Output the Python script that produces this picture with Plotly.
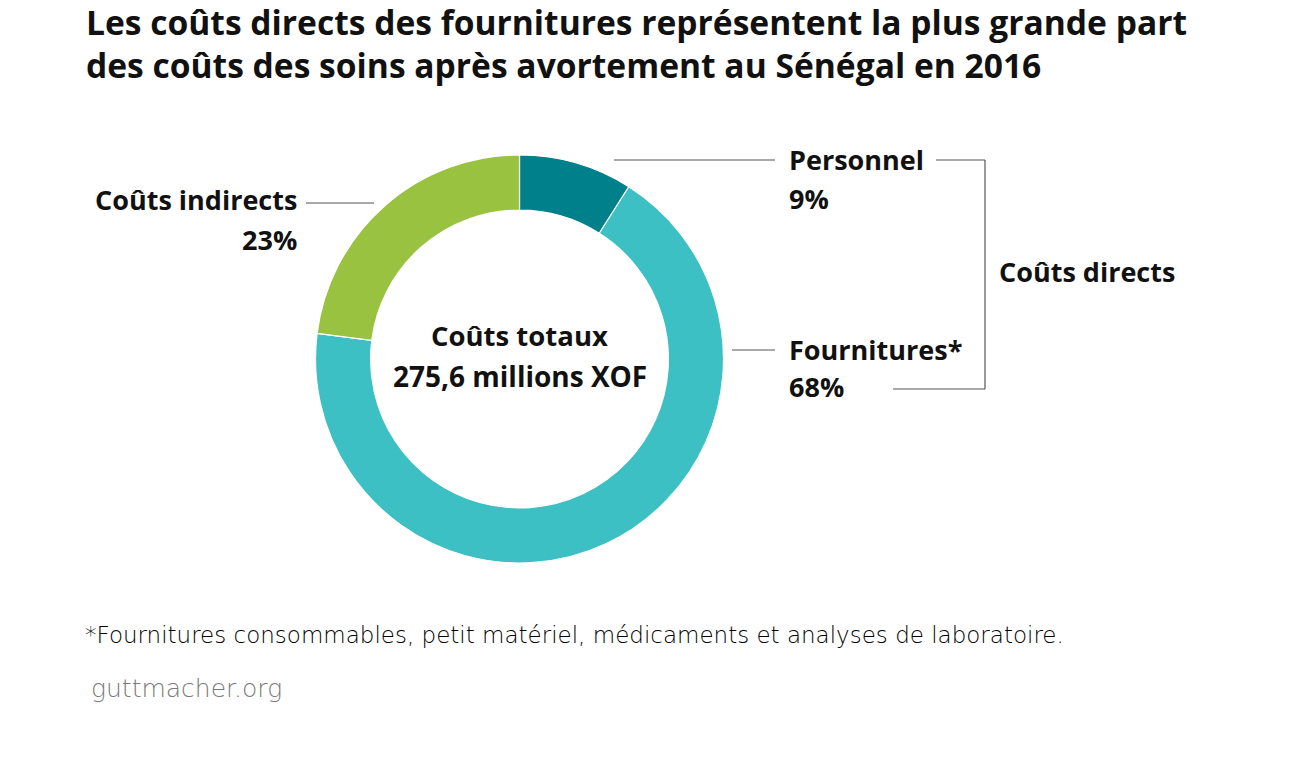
import plotly.graph_objects as go

# data
labels = ["Personnel", "Fournitures*", "Coûts indirects"]
values = [9, 68, 23]
colors = ["#00808A", "#3CC0C3", "#98C23F"]

title_lines = [
    "Les coûts directs des fournitures représentent la plus grande part",
    "des coûts des soins après avortement au Sénégal en 2016",
]
center_lines = ["Coûts totaux", "275,6 millions XOF"]
footnote = "*Fournitures consommables, petit matériel, médicaments et analyses de laboratoire."
source = "guttmacher.org"

W, H = 1300, 758


def px(x):
    return x / W


def py(y):
    return 1 - y / H


BOLD = "Open Sans"
LIGHT = "DejaVu Sans"

fig = go.Figure()

# donut, centre (519.5, 359), radius 204
cx, cy, r = 519.5, 359, 204
fig.add_trace(go.Pie(
    labels=labels,
    values=values,
    hole=0.73,
    sort=False,
    direction="clockwise",
    rotation=0,
    marker=dict(colors=colors, line=dict(color="white", width=1.2)),
    textinfo="none",
    hoverinfo="label+percent",
    showlegend=False,
    domain=dict(x=[px(cx - r), px(cx + r)], y=[py(cy + r), py(cy - r)]),
))


def note(text, x, y, size=27, anchor="left", color="#111", weight=700, family=BOLD):
    fig.add_annotation(
        text=text, x=px(x), y=py(y), xref="paper", yref="paper",
        xanchor=anchor, yanchor="middle", showarrow=False,
        font=dict(family=family, size=size, color=color, weight=weight),
    )


# title
note(title_lines[0], 84, 22, size=33.6)
note(title_lines[1], 84, 65, size=33.6)

# centre text
note(center_lines[0], cx, 335, size=27.5, anchor="center")
note(center_lines[1], cx, 376, size=28, anchor="center")

# slice labels
note(labels[0], 787, 159, anchor="left")
note(f"{values[0]}%", 787, 198, anchor="left")
note(labels[1], 787, 349, anchor="left")
note(f"{values[1]}%", 787, 386, anchor="left")
note(labels[2], 299, 200, anchor="right")
note(f"{values[2]}%", 299, 239, anchor="right")
note("Coûts directs", 997, 272, anchor="left")

# footnote and source
note(footnote, 83, 635, size=23, weight=300, family=LIGHT, color="#000")
note(source, 89, 688, size=25, weight=300, family=LIGHT, color="#7a7a7a")

# leader lines and bracket
line_style = dict(color="#555555", width=1.2)
segments = [
    (614, 160, 775, 160),
    (732, 350, 775, 350),
    (306, 203, 374, 203),
    (936, 160, 985, 160),
    (985, 160, 985, 389),
    (893, 389, 985, 389),
]
for x0, y0, x1, y1 in segments:
    fig.add_shape(type="line", xref="paper", yref="paper",
                  x0=px(x0), y0=py(y0), x1=px(x1), y1=py(y1), line=line_style)

fig.update_layout(
    width=W, height=H,
    margin=dict(l=0, r=0, t=0, b=0),
    paper_bgcolor="white",
    plot_bgcolor="white",
)

# drop the default 8px body margin so paper pixels match the window
fig.write_html("out.html", config={"displayModeBar": False},
               post_script="document.body.style.margin='0px';")
